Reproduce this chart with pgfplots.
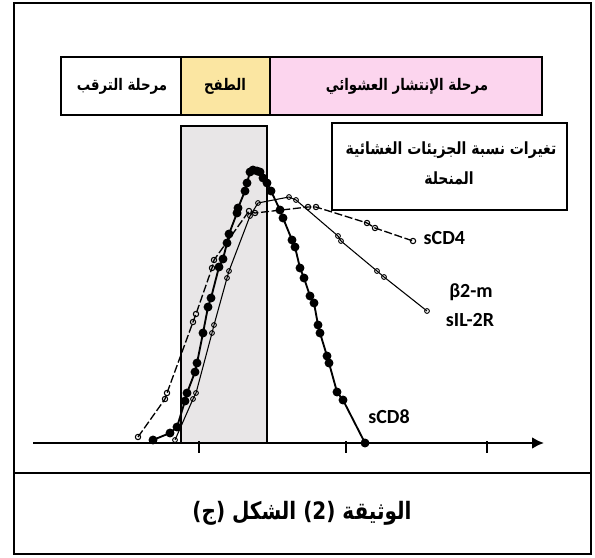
\documentclass[border=0pt]{standalone}
\usepackage{pgfplots}
\pgfplotsset{compat=1.18}
\usepackage{graphicx}
\usepackage{fontspec}
\setmainfont{Carlito}
\newfontfamily\arabicfont[Script=Arabic]{DejaVu Sans}
\TeXXeTstate=1
\usetikzlibrary{arrows.meta}

\definecolor{phaseyellow}{HTML}{FBE6A2}
\definecolor{phasepink}{HTML}{FCD5EE}
\definecolor{bandgray}{HTML}{E8E6E7}

\newcommand{\ar}[1]{\scalebox{1}[1.2]{\arabicfont\bfseries\beginR #1\endR}}

\begin{document}
\begin{tikzpicture}
\begin{axis}[
    scale only axis,
    width=446.25pt, height=417.75pt,
    xmin=0, xmax=595, ymin=-114, ymax=443,
    hide axis,
    clip=false,
  ]
  % page extent
  \path (axis cs:0,-114) rectangle (axis cs:595,443);

  % outer frame and caption row
  \draw[line width=1.8pt] (axis cs:14,-111) rectangle (axis cs:591,440);
  \draw[line width=2pt] (axis cs:14,-30) -- (axis cs:591,-30);
  \node[font=\fontsize{15}{18}\selectfont] at (axis cs:302,-70)
    {\ar{الوثيقة (2) الشكل (ج)}};

  % phase boxes
  \draw[line width=2pt, fill=white] (axis cs:61,328) rectangle (axis cs:181,386);
  \draw[line width=2pt, fill=phaseyellow] (axis cs:181,328) rectangle (axis cs:270,386);
  \draw[line width=2pt, fill=phasepink] (axis cs:270,328) rectangle (axis cs:542,386);
  \node[font=\fontsize{10}{12}\selectfont] at (axis cs:122,357) {\ar{مرحلة الترقب}};
  \node[font=\fontsize{10}{12}\selectfont] at (axis cs:225,357) {\ar{الطفح}};
  \node[font=\fontsize{10}{12}\selectfont] at (axis cs:407,357) {\ar{مرحلة الإنتشار العشوائي}};

  % shaded band (outbreak)
  \draw[line width=2pt, fill=bandgray] (axis cs:181,0) rectangle (axis cs:267,317);

  % x axis with ticks
  \draw[line width=2.2pt, -{Latex[length=9pt,width=9pt]}] (axis cs:33,0) -- (axis cs:544,0);
  \draw[line width=0.9pt] (axis cs:199,2) -- (axis cs:199,-10);
  \draw[line width=0.9pt] (axis cs:346,2) -- (axis cs:346,-10);
  \draw[line width=0.9pt] (axis cs:487,2) -- (axis cs:487,-10);

  % sCD4
  \addplot[black, line width=1pt, dash pattern=on 6pt off 2pt,
    mark=o, mark size=2pt, mark options={solid, fill=white, line width=0.8pt}]
    coordinates {
      (138,6) (165,44) (167,50) (193,121) (196,129) (212,175) (214,183)
      (249,232) (255,230) (308,236) (316,236) (367,220) (375,215) (413,202)
    };

  % beta2-m / sIL-2R
  \addplot[black, line width=0.8pt,
    mark=o, mark size=1.8pt, mark options={solid, fill=white, line width=0.7pt}]
    coordinates {
      (175,3) (193,44) (196,50) (212,110) (214,118) (227,165) (229,172)
      (250,227) (258,240) (289,246) (296,243) (338,207) (341,202)
      (377,172) (384,166) (427,132)
    };

  % sCD8
  \addplot[black, line width=1.4pt, mark=*, mark size=2.6pt]
    coordinates {
      (153,3) (170,10) (177,16) (185,42) (187,50) (195,71) (197,80)
      (203,110) (208,136) (211,145) (219,176) (223,184) (227,200) (229,209)
      (237,230) (238,235) (245,252) (247,260) (250,271) (253,273) (257,272)
      (260,271) (263,265) (267,260) (271,252) (280,233) (283,225) (292,203)
      (295,196) (300,175) (304,165) (310,147) (314,140) (318,118) (320,110)
      (327,87) (329,80) (337,51) (343,43) (365,0)
    };

  % title box
  \draw[line width=1.8pt, fill=white] (axis cs:332,233) rectangle (axis cs:567,320);
  \node[font=\fontsize{10.5}{13}\selectfont] at (axis cs:451,293) {\ar{تغيرات نسبة الجزيئات الغشائية}};
  \node[font=\fontsize{10.5}{13}\selectfont] at (axis cs:449,265) {\ar{المنحلة}};

  % curve labels
  \node[font=\fontsize{15}{18}\selectfont\bfseries, anchor=west] at (axis cs:419,205) {sCD4};
  \node[font=\fontsize{15}{18}\selectfont\bfseries] at (axis cs:471,151) {β2-m};
  \node[font=\fontsize{15}{18}\selectfont\bfseries] at (axis cs:470,123) {sIL-2R};
  \node[font=\fontsize{15}{18}\selectfont\bfseries] at (axis cs:389,26) {sCD8};
\end{axis}
\end{tikzpicture}
\end{document}
